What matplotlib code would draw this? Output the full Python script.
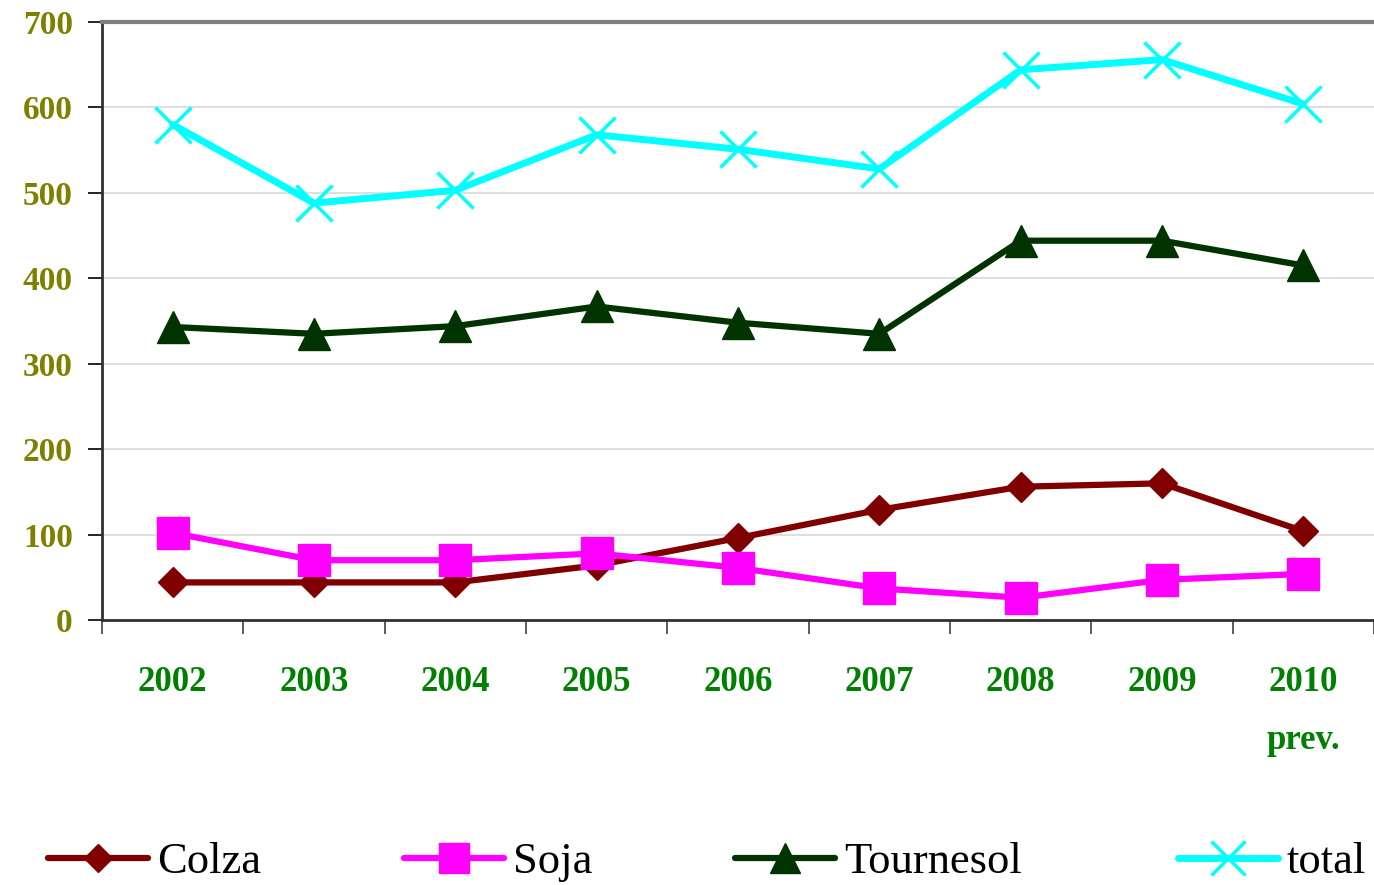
import matplotlib.pyplot as plt
import numpy as np

# data
years = ["2002", "2003", "2004", "2005", "2006", "2007", "2008", "2009", "2010\nprev."]
colza = [44, 44, 44, 64, 96, 129, 156, 160, 104]
soja = [102, 70, 70, 78, 61, 37, 26, 47, 54]
tournesol = [343, 335, 344, 367, 348, 335, 444, 444, 415]
total = [580, 488, 503, 568, 551, 528, 644, 656, 604]

plt.rcParams["font.family"] = ["Liberation Serif", "DejaVu Serif"]

fig = plt.figure(figsize=(13.74, 8.85), dpi=100)
ax = fig.add_axes([102 / 1374, 1 - 620 / 885, 1 - 102 / 1374, (620 - 22) / 885])

x = np.arange(len(years))

l1, = ax.plot(x, colza, color="#800000", lw=4.5, marker="D", ms=15,
              solid_capstyle="round", label="Colza")
l2, = ax.plot(x, soja, color="#FF00FF", lw=4.5, marker="s", ms=23,
              solid_capstyle="round", label="Soja")
l3, = ax.plot(x, tournesol, color="#003300", lw=4.5, marker="^", ms=23,
              solid_capstyle="round", label="Tournesol")
l4, = ax.plot(x, total, color="#00FFFF", lw=5, marker="x", ms=26, mew=2.5,
              solid_capstyle="round", label="total")

ax.set_xlim(-0.5, 8.5)
ax.set_ylim(0, 700)
ax.set_yticks(range(0, 701, 100))
ax.set_xticks(x)
ax.set_xticklabels(years)
ax.set_xticks(np.arange(-0.5, 8.6, 1), minor=True)

ax.tick_params(axis="x", which="major", length=0, pad=33)
ax.tick_params(axis="x", which="minor", length=10, width=1.2, direction="out", color="#404040")
ax.tick_params(axis="y", length=10, width=1.2, direction="out", pad=11)

for lab in ax.get_xticklabels():
    lab.set_fontsize(25)
    lab.set_fontweight("bold")
    lab.set_color("#008000")
    lab.set_linespacing(2.0)
for lab in ax.get_yticklabels():
    lab.set_fontsize(24)
    lab.set_fontweight("bold")
    lab.set_color("#808000")

ax.grid(axis="y", color="#d9d9d9", lw=1.2)
ax.set_axisbelow(True)
ax.spines["right"].set_visible(False)
ax.spines["top"].set_color("#808080")
ax.spines["top"].set_linewidth(3)
ax.spines["left"].set_color("#303030")
ax.spines["left"].set_linewidth(2)
ax.spines["bottom"].set_color("#303030")
ax.spines["bottom"].set_linewidth(2)

# legend entries placed one by one along the bottom
for h, xpos in zip([l1, l2, l3, l4], [48, 404, 735, 1178]):
    fig.legend(handles=[h], loc="center left", bbox_to_anchor=(xpos / 1374, 1 - 862 / 885),
               frameon=False, fontsize=32, handlelength=2.25, handletextpad=0.2,
               borderpad=0, borderaxespad=0, markerscale=0.95)

fig.savefig("out.png", dpi=100)
